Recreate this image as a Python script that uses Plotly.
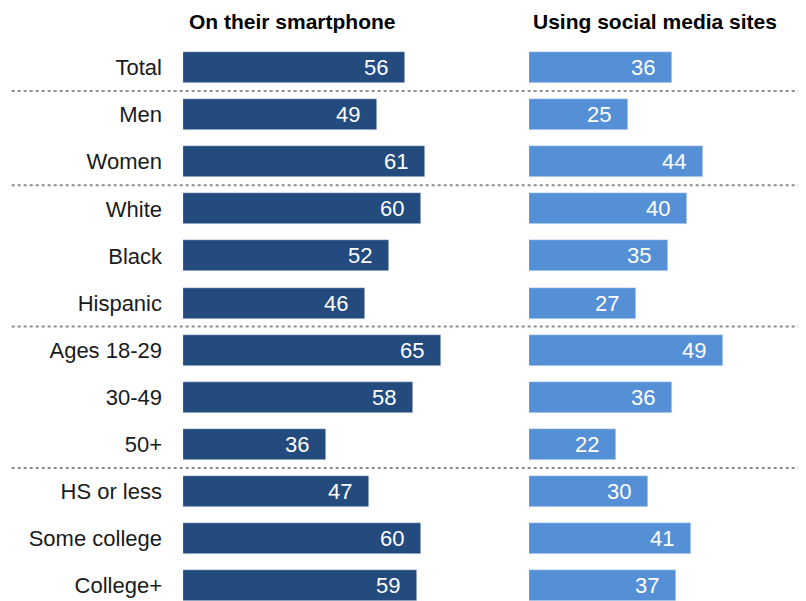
import plotly.graph_objects as go
from plotly.subplots import make_subplots

# Survey groups, top to bottom
groups = ['Total', 'Men', 'Women', 'White', 'Black', 'Hispanic',
          'Ages 18-29', '30-49', '50+', 'HS or less', 'Some college', 'College+']
smartphone = [56, 49, 61, 60, 52, 46, 65, 58, 36, 47, 60, 59]
social_media = [36, 25, 44, 40, 35, 27, 49, 36, 22, 30, 41, 37]

# separators sit between these row pairs
separators = [0.5, 2.5, 5.5, 8.5]

DARK = '#234B7D'
LIGHT = '#5590D6'
FONT = 'Liberation Sans, Arial, sans-serif'

rows = list(range(len(groups)))

fig = make_subplots(rows=1, cols=2, shared_yaxes=True)

fig.add_trace(go.Bar(x=smartphone, y=rows, orientation='h', marker_color=DARK,
                     width=0.66, hoverinfo='skip'), row=1, col=1)
fig.add_trace(go.Bar(x=social_media, y=rows, orientation='h', marker_color=LIGHT,
                     width=0.66, hoverinfo='skip'), row=1, col=2)

# value labels inside the bar ends
for xref, vals in [('x', smartphone), ('x2', social_media)]:
    for i, v in enumerate(vals):
        fig.add_annotation(x=v, y=i, xref=xref, yref='y', text=str(v),
                           showarrow=False, xanchor='right', xshift=-15,
                           font=dict(family=FONT, size=22, color='white'))

for y in separators:
    fig.add_shape(type='line', xref='paper', yref='y', x0=-0.275, x1=1, y0=y, y1=y,
                  line=dict(color='#8c8c8c', width=2, dash='dot'))

# column headers
for x, title in [(0.175, 'On their smartphone'), (0.7576, 'Using social media sites')]:
    fig.add_annotation(x=x, y=1.04, xref='paper', yref='paper', text=f'<b>{title}</b>',
                       showarrow=False, xanchor='center', yanchor='middle',
                       font=dict(family=FONT, size=21, color='black'))

fig.update_xaxes(visible=False, showgrid=False, zeroline=False)
fig.update_layout(
    xaxis=dict(domain=[0, 0.5088], range=[0, 80]),
    xaxis2=dict(domain=[0.5554, 1], range=[0, 69.95]),
    yaxis=dict(range=[11.326, -0.5], tickvals=rows, ticktext=groups,
               showgrid=False, zeroline=False, showline=False, ticks='',
               ticklabelstandoff=20, tickfont=dict(family=FONT, size=22, color='#1a1a1a')),
    width=798, height=593,
    margin=dict(l=175, r=0, t=36, b=0),
    plot_bgcolor='white', paper_bgcolor='white',
    showlegend=False, bargap=0,
)

fig.write_html('out.html')
